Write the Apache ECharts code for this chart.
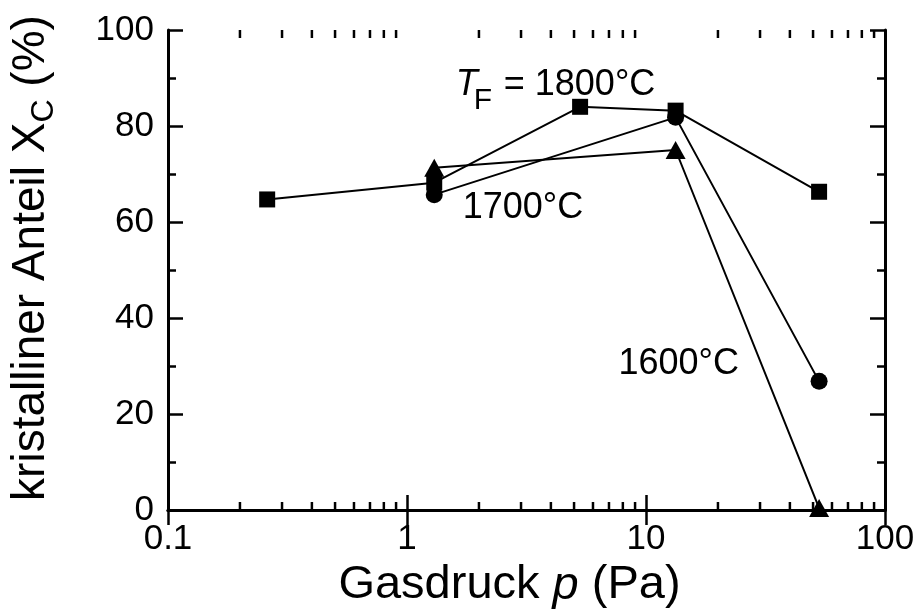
<!DOCTYPE html>
<html>
<head>
<meta charset="utf-8">
<script src="https://cdn.jsdelivr.net/npm/echarts@6/dist/echarts.min.js"></script>
<style>
html,body{margin:0;padding:0;background:#fff;}
#main{width:921px;height:614px;}
</style>
</head>
<body>
<div id="main"></div>
<script>
// ---- data ----
var p1800 = [0.26, 1.3, 5.3, 13.3, 53];
var x1800 = [64.7, 68.2, 84.0, 83.2, 66.3];
var p1700 = [1.3, 13.3, 53];
var x1700 = [65.7, 81.8, 26.8];
var p1600 = [1.3, 13.3, 53];
var x1600 = [71.3, 75.0, 0.4];
var xTickLabels = ['0.1', '1', '10', '100'];
var xMinorTicks = [0.2,0.3,0.4,0.5,0.6,0.7,0.8,0.9,2,3,4,5,6,7,8,9,20,30,40,50,60,70,80,90];
var yTickLabels = ['0', '20', '40', '60', '80', '100'];
var annotations = [
  {p: 1.6, x: 88.6, kind: 'tf', text: '= 1800°C'},
  {p: 1.71, x: 63.0, kind: 'plain', text: '1700°C'},
  {p: 7.67, x: 30.4, kind: 'plain', text: '1600°C'}
];

function pairs(a, b) { return a.map(function (v, i) { return [v, b[i]]; }); }

var FONT = 'Liberation Sans, Arial, Helvetica, sans-serif';
var chart = echarts.init(document.getElementById('main'), null, {renderer: 'canvas'});

function xAxisDef(pos, showLabel) {
  return {
    type: 'log', logBase: 10, min: 0.1, max: 100, position: pos,
    axisLine: {show: true, lineStyle: {color: '#000', width: 3}},
    axisTick: {show: true, inside: true, length: 15, lineStyle: {color: '#000', width: 2.5}},
    minorTick: {show: false},
    splitLine: {show: false},
    axisLabel: {
      show: showLabel, color: '#000', fontSize: 35, fontFamily: FONT, margin: 12,
      formatter: function (v) {
        var e = Math.round(Math.log10(v)) + 1;
        return xTickLabels[e] !== undefined ? xTickLabels[e] : '';
      }
    }
  };
}
function yAxisDef(pos, showLabel) {
  return {
    type: 'value', min: 0, max: 100, interval: 20, position: pos,
    axisLine: {show: true, lineStyle: {color: '#000', width: 3}},
    axisTick: {show: true, inside: true, length: 15, lineStyle: {color: '#000', width: 2.5}},
    minorTick: {show: true, splitNumber: 2, length: 8, lineStyle: {color: '#000', width: 2.5}},
    splitLine: {show: false},
    axisLabel: {
      show: showLabel, color: '#000', fontSize: 35, fontFamily: FONT, margin: 14,
      formatter: function (v) { return yTickLabels[Math.round(v / 20)]; }
    }
  };
}

var xa0 = xAxisDef('bottom', true);
xa0.name = '{n|Gasdruck }{i|p}{n| (Pa)}';
xa0.nameLocation = 'middle';
xa0.nameGap = 52;
xa0.nameTextStyle = {
  color: '#000', fontFamily: FONT, padding: [0, 34, 0, 0],
  rich: {
    n: {fontSize: 47, fontFamily: FONT, color: '#000'},
    i: {fontSize: 47, fontFamily: FONT, fontStyle: 'italic', color: '#000'}
  }
};
var ya0 = yAxisDef('left', true);
ya0.name = '{n|kristalliner Anteil X}{s|C}{n| (%)}';
ya0.nameLocation = 'middle';
ya0.nameGap = 108;
ya0.nameTextStyle = {
  color: '#000', fontFamily: FONT, padding: [0, 0, 0, 24],
  rich: {
    n: {fontSize: 46, fontFamily: FONT, color: '#000'},
    s: {fontSize: 32, fontFamily: FONT, color: '#000', padding: [26, 0, 0, 0]}
  }
};

var lineStyle = {color: '#000', width: 2};
var option = {
  animation: false,
  backgroundColor: '#fff',
  grid: {left: 167, right: 36, top: 30, bottom: 103, containLabel: false},
  xAxis: [xa0, xAxisDef('top', false)],
  yAxis: [ya0, yAxisDef('right', false)],
  series: [
    {
      type: 'custom', name: 'minorTicks', silent: true, clip: false,
      xAxisIndex: 0, yAxisIndex: 0, z: 5,
      data: xMinorTicks.map(function (v) { return [v, 0]; }),
      renderItem: function (params, api) {
        var b = api.coord([api.value(0), 0]);
        var t = api.coord([api.value(0), 100]);
        var st = {stroke: '#000', lineWidth: 2.5};
        return {type: 'group', children: [
          {type: 'line', shape: {x1: b[0], y1: b[1], x2: b[0], y2: b[1] - 8}, style: st},
          {type: 'line', shape: {x1: t[0], y1: t[1], x2: t[0], y2: t[1] + 8}, style: st}
        ]};
      }
    },
    {
      type: 'line', name: '1700°C', data: pairs(p1700, x1700),
      symbol: 'circle', symbolSize: 17, itemStyle: {color: '#000'}, lineStyle: lineStyle, z: 3
    },
    {
      type: 'line', name: '1800°C', data: pairs(p1800, x1800),
      symbol: 'rect', symbolSize: 16, itemStyle: {color: '#000'}, lineStyle: lineStyle, z: 3
    },
    {
      type: 'line', name: '1600°C', data: pairs(p1600, x1600),
      symbol: 'triangle', symbolSize: [20, 18], itemStyle: {color: '#000'}, lineStyle: lineStyle, z: 4
    }
  ]
};
chart.setOption(option);

// annotations placed via the chart's own coordinate conversion
var g = [];
annotations.forEach(function (a) {
  var pt = chart.convertToPixel({xAxisIndex: 0, yAxisIndex: 0}, [a.p, a.x]);
  if (a.kind === 'tf') {
    g.push({type: 'text', x: pt[0], y: pt[1], style: {text: 'T', font: 'italic 36px ' + FONT, fill: '#000', textVerticalAlign: 'middle', textAlign: 'left'}});
    g.push({type: 'text', x: pt[0] + 18, y: pt[1] + 16, style: {text: 'F', font: '30px ' + FONT, fill: '#000', textVerticalAlign: 'middle', textAlign: 'left'}});
    g.push({type: 'text', x: pt[0] + 48, y: pt[1], style: {text: a.text, font: '36px ' + FONT, fill: '#000', textVerticalAlign: 'middle', textAlign: 'left'}});
  } else {
    g.push({type: 'text', x: pt[0], y: pt[1], style: {text: a.text, font: '36px ' + FONT, fill: '#000', textVerticalAlign: 'middle', textAlign: 'left'}});
  }
});
chart.setOption({graphic: g});
</script>
</body>
</html>
